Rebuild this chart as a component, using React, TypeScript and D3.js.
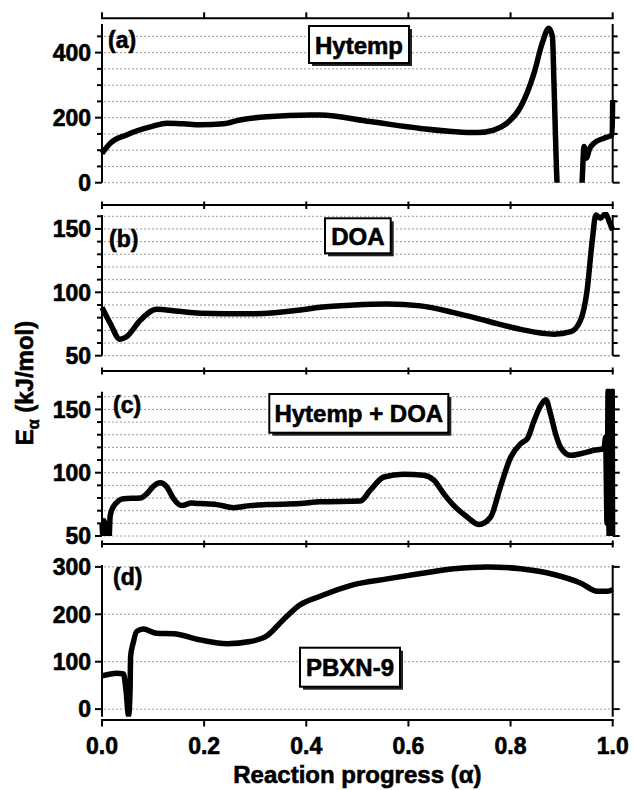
import React from 'react';
import * as d3 from 'd3';

const xTickValues = [0, 0.2, 0.4, 0.6, 0.8, 1.0];
const xTickLabels = ['0.0', '0.2', '0.4', '0.6', '0.8', '1.0'];

// (a) Hytemp
const hytempAlpha = [0, 0.016, 0.048, 0.1, 0.127, 0.16, 0.192, 0.238, 0.27, 0.323, 0.408, 0.427, 0.525, 0.624, 0.735, 0.767, 0.793, 0.82, 0.846, 0.862, 0.875, 0.882, 0.885, 0.891, 0.9, 0.935, 0.94, 0.944, 0.948, 0.955, 0.963, 0.983, 0.999, 1.0];
const hytempEa = [90, 121, 147, 174, 183, 181, 178, 181, 193, 203, 208, 208, 188, 167, 154, 162, 183, 234, 337, 429, 475, 449, 306, 0, -150, -150, 0, 111, 75, 105, 121, 137, 147, 254];

// (b) DOA
const doaAlpha = [0, 0.016, 0.035, 0.048, 0.075, 0.107, 0.15, 0.192, 0.29, 0.388, 0.427, 0.493, 0.558, 0.624, 0.689, 0.754, 0.82, 0.885, 0.918, 0.937, 0.95, 0.96, 0.967, 0.976, 0.986, 0.993, 1.0];
const doaEa = [88, 75.6, 63, 65, 78, 86.6, 85, 83.5, 83, 86, 88.2, 90, 90.8, 89.3, 84, 77.4, 70.8, 67, 69, 78, 102, 141, 161, 158.5, 162, 156, 149];

// (c) Hytemp + DOA
const mixAlpha = [0, 0.002, 0.004, 0.006, 0.008, 0.010, 0.012, 0.014, 0.016, 0.022, 0.042, 0.075, 0.088, 0.1, 0.114, 0.127, 0.14, 0.156, 0.175, 0.192, 0.225, 0.258, 0.29, 0.323, 0.388, 0.427, 0.506, 0.525, 0.552, 0.59, 0.63, 0.65, 0.669, 0.689, 0.715, 0.738, 0.761, 0.78, 0.8, 0.82, 0.833, 0.846, 0.859, 0.869, 0.878, 0.888, 0.898, 0.918, 0.937, 0.963, 0.983, 0.986, 0.989, 0.991, 0.993, 0.995, 0.997, 0.999, 1.0];
const mixEa = [60, 50, 62, 50, 58, 50, 60, 50, 66, 73, 79.5, 80, 83.5, 89, 92, 88.7, 79.5, 74, 76, 75.6, 74.8, 72.4, 74, 74.8, 75.6, 77, 77.6, 86, 96.6, 98.7, 98, 94, 83.5, 74, 65, 59, 65, 88.7, 112, 123, 127, 141, 153, 157.7, 146.7, 131, 120, 113.7, 115, 117.7, 119, 128, 60, 165, 50, 160, 55, 165, 50];

// (d) PBXN-9
const pbxAlpha = [0, 0.029, 0.042, 0.047, 0.052, 0.055, 0.056, 0.061, 0.068, 0.081, 0.107, 0.14, 0.192, 0.245, 0.29, 0.323, 0.355, 0.388, 0.427, 0.493, 0.558, 0.624, 0.689, 0.754, 0.82, 0.885, 0.937, 0.97, 0.99, 1.0];
const pbxEa = [70, 75.6, 74, 40, -13, 40, 111, 139, 164, 169, 160, 159, 146, 138, 142.6, 154.7, 188.6, 220, 238, 262.7, 274.7, 286, 296, 300, 296, 284, 266, 248.5, 248.5, 252];

const FONT = '"Liberation Sans", Arial, Helvetica, sans-serif';
const X0 = 102;
const X1 = 612.7;

const panels = [
  { id: 'a', range: [182.7, 24], domain: [0, 488], ticks: d3.range(0, 451, 50), labels: [0, 200, 400], alpha: hytempAlpha, ea: hytempEa, tag: '(a)', tagX: 108, tagY: 48, box: { text: 'Hytemp', x: 309, y: 26, w: 100, h: 37 } },
  { id: 'b', range: [355.7, 215], domain: [50, 161], ticks: d3.range(50, 161, 10), labels: [50, 100, 150], alpha: doaAlpha, ea: doaEa, tag: '(b)', tagX: 109, tagY: 247, box: { text: 'DOA', x: 325, y: 218.3, w: 65.7, h: 35 } },
  { id: 'c', range: [536, 391.7], domain: [50, 164], ticks: d3.range(50, 161, 10), labels: [50, 100, 150], alpha: mixAlpha, ea: mixEa, tag: '(c)', tagX: 113, tagY: 413, box: { text: 'Hytemp + DOA', x: 269.3, y: 394, w: 179, h: 38.7 } },
  { id: 'd', range: [716.7, 565], domain: [-16, 304], ticks: [0, 100, 200, 300], labels: [0, 100, 200, 300], alpha: pbxAlpha, ea: pbxEa, tag: '(d)', tagX: 113, tagY: 585, box: { text: 'PBXN-9', x: 300, y: 647.7, w: 100, h: 39 } },
];

const xAxes = [
  { y: 18.3, up: 6, down: 0 },
  { y: 205, up: 3.5, down: 4 },
  { y: 371, up: 3.5, down: 3.5 },
  { y: 544, up: 3.5, down: 3.5 },
  { y: 720, up: 0, down: 6.5 },
];

const bold = { fontWeight: 'bold' as const, stroke: '#000', strokeWidth: 0.6 };

export default function App() {
  const x = d3.scaleLinear().domain([0, 1]).range([X0, X1]);
  return (
    <svg width={633} height={790} style={{ position: 'absolute', left: 0, top: 0, background: '#fff' }} fontFamily={FONT}>
      <rect x={0} y={0} width={633} height={790} fill="#fff" />
      <defs>
        {panels.map((p) => (
          <clipPath id={`clip-${p.id}`} key={p.id}>
            <rect x={X0 - 3} y={p.range[1] - 3} width={X1 - X0 + 6} height={p.range[0] - p.range[1] + 3} />
          </clipPath>
        ))}
      </defs>
      {panels.map((p) => {
        const y = d3.scaleLinear().domain(p.domain).range(p.range);
        const pts = p.alpha.map((a, i) => [a, p.ea[i]] as [number, number]);
        const line = d3.line<[number, number]>().x((d) => x(d[0])).y((d) => y(d[1])).curve(d3.curveMonotoneX);
        return (
          <g key={p.id}>
            {p.ticks.map((t) => (
              <line key={'g' + t} x1={X0 + 2} x2={X1 - 1} y1={y(t)} y2={y(t)} stroke="#9a9a9a" strokeWidth={1} strokeDasharray="2,2" />
            ))}
            <path d={line(pts) || ''} fill="none" stroke="#000" strokeWidth={5.5} strokeLinejoin="round" strokeLinecap="butt" clipPath={`url(#clip-${p.id})`} />
            <line x1={X0} x2={X0} y1={p.range[1]} y2={p.range[0]} stroke="#000" strokeWidth={2} />
            <line x1={X1} x2={X1} y1={p.range[1]} y2={p.range[0]} stroke="#000" strokeWidth={2} />
            {p.ticks.map((t) => {
              const major = p.labels.includes(t);
              const len = major ? 7 : 5;
              return (
                <g key={'t' + t}>
                  <line x1={X0 - len} x2={X0} y1={y(t)} y2={y(t)} stroke="#000" strokeWidth={2} />
                  <line x1={X1} x2={X1 + len} y1={y(t)} y2={y(t)} stroke="#000" strokeWidth={2} />
                </g>
              );
            })}
            {p.labels.map((t) => (
              <text key={'l' + t} x={91} y={y(t)} dy="0.36em" textAnchor="end" fontSize={23} {...bold}>{t}</text>
            ))}
            <text x={p.tagX} y={p.tagY} fontSize={23} {...bold}>{p.tag}</text>
            <rect x={p.box.x + 3} y={p.box.y + 3} width={p.box.w} height={p.box.h} fill="#222" />
            <rect x={p.box.x} y={p.box.y} width={p.box.w} height={p.box.h} fill="#fff" stroke="#000" strokeWidth={2} />
            <text x={p.box.x + p.box.w / 2} y={p.box.y + p.box.h / 2 + 9} textAnchor="middle" fontSize={24} {...bold}>{p.box.text}</text>
          </g>
        );
      })}
      {xAxes.map((a, i) => (
        <g key={'x' + i}>
          <line x1={X0 - 1} x2={X1 + 1} y1={a.y} y2={a.y} stroke="#000" strokeWidth={2} />
          {xTickValues.map((t) => (
            <line key={t} x1={x(t)} x2={x(t)} y1={a.y - a.up} y2={a.y + a.down} stroke="#000" strokeWidth={2} />
          ))}
        </g>
      ))}
      {xTickValues.map((t, i) => (
        <text key={'xl' + t} x={x(t)} y={754} textAnchor="middle" fontSize={23} {...bold}>{xTickLabels[i]}</text>
      ))}
      <text x={(X0 + X1) / 2} y={783} textAnchor="middle" fontSize={24} {...bold}>Reaction progress (α)</text>
      <text transform="translate(33,383) rotate(-90)" textAnchor="middle" fontSize={24} {...bold}>
        E<tspan fontSize={16} dy={6}>α</tspan><tspan dy={-6}> (kJ/mol)</tspan>
      </text>
    </svg>
  );
}
